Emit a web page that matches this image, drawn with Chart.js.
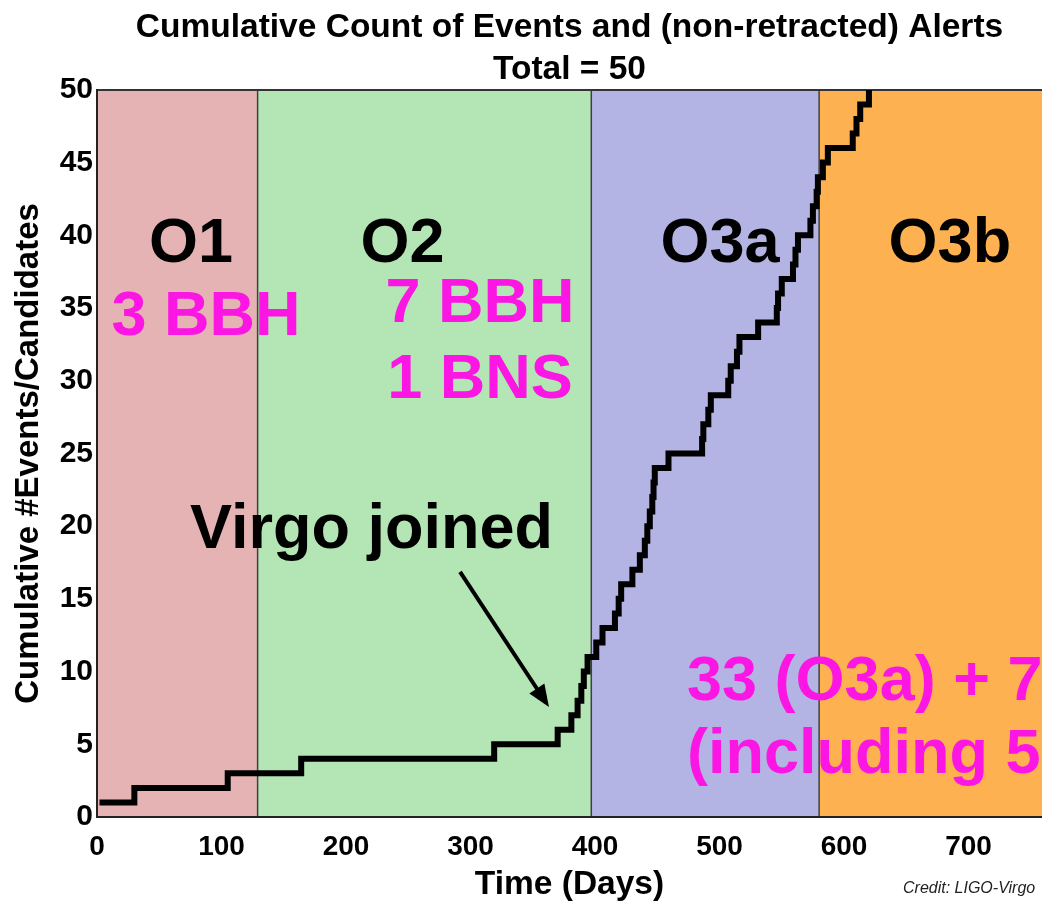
<!DOCTYPE html>
<html>
<head>
<meta charset="utf-8">
<script src="https://cdn.jsdelivr.net/npm/chart.js@4.4.1/dist/chart.umd.min.js"></script>
<style>
  html, body { margin: 0; padding: 0; background: #fff; }
</style>
</head>
<body>
<canvas id="eventsChart" width="1042" height="905"></canvas>
<script>
// observing runs, in days of observing time
const runNames = ["O1", "O2", "O3a", "O3b"];
const runStarts = [0, 129, 397, 580];
const runEnds = [129, 397, 580, 760];

// day on which the cumulative count steps up, and the count after the step
const eventDays = [2, 30, 105, 164, 319, 370, 381, 386, 389, 391,
  394, 401, 406, 416, 419, 421, 430, 436, 440, 442,
  444, 446, 447, 448, 459, 486, 487, 491, 493, 507,
  509, 514, 516, 531, 546, 547, 550, 559, 561, 563,
  573, 575, 578, 579, 583, 587, 607, 610, 613, 620];
const eventCounts = [1, 2, 3, 4, 5, 6, 7, 8, 9, 10,
  11, 12, 13, 14, 15, 16, 17, 18, 19, 20,
  21, 22, 23, 24, 25, 26, 27, 28, 29, 30,
  31, 32, 33, 34, 35, 36, 37, 38, 39, 40,
  41, 42, 43, 44, 45, 46, 47, 48, 49, 50];
const totalCount = 50;

const FONT = "'Liberation Sans', Arial, Helvetica, sans-serif";
const MAGENTA = "#fc16e3";
const runColors = ["#e5b3b3", "#b4e5b4", "#b3b3e4", "#fdb151"];

// text placed on the plot (data coordinates)
const notes = [
  { text: runNames[0], x: 75.5, y: 38.2, color: "#000" },
  { text: runNames[1], x: 245.4, y: 38.2, color: "#000" },
  { text: runNames[2], x: 500.4, y: 38.2, color: "#000" },
  { text: runNames[3], x: 685, y: 38.2, color: "#000" },
  { text: "3 BBH", x: 87.6, y: 33.15, color: MAGENTA },
  { text: "7 BBH", x: 307.6, y: 34.04, color: MAGENTA },
  { text: "1 BNS", x: 307.6, y: 28.82, color: MAGENTA },
  { text: "Virgo joined", x: 220.5, y: 18.5, color: "#000" },
  { text: "33 (O3a) + 7", x: 473.9, y: 8.05, color: MAGENTA, align: "left" },
  { text: "(including 5", x: 473.9, y: 3.03, color: MAGENTA, align: "left" }
];

const runBands = {
  id: "runBands",
  beforeDraw(chart) {
    const { ctx, chartArea: a, scales: { x } } = chart;
    ctx.save();
    runStarts.forEach((s, i) => {
      const x0 = Math.max(x.getPixelForValue(s), a.left);
      const x1 = Math.min(x.getPixelForValue(runEnds[i]), a.right);
      ctx.fillStyle = runColors[i];
      ctx.fillRect(x0, a.top, x1 - x0, a.bottom - a.top);
    });
    ctx.strokeStyle = "#404040";
    ctx.lineWidth = 1.5;
    runStarts.slice(1).forEach(s => {
      const px = x.getPixelForValue(s);
      ctx.beginPath();
      ctx.moveTo(px, a.top);
      ctx.lineTo(px, a.bottom);
      ctx.stroke();
    });
    ctx.strokeStyle = "#333";
    ctx.lineWidth = 2;
    ctx.beginPath();
    ctx.moveTo(a.left, a.top);
    ctx.lineTo(a.right, a.top);
    ctx.stroke();
    ctx.restore();
  },
  beforeDatasetsDraw(chart) {
    const { ctx, scales: { x, y } } = chart;
    ctx.save();
    ctx.textBaseline = "alphabetic";
    ctx.font = "bold 63px " + FONT;
    notes.forEach(n => {
      ctx.fillStyle = n.color;
      ctx.textAlign = n.align || "center";
      ctx.fillText(n.text, x.getPixelForValue(n.x), y.getPixelForValue(n.y));
    });

    // arrow pointing at the Virgo start
    const x0 = x.getPixelForValue(291.6), y0 = y.getPixelForValue(16.85);
    const x1 = x.getPixelForValue(363), y1 = y.getPixelForValue(7.57);
    const ang = Math.atan2(y1 - y0, x1 - x0);
    ctx.strokeStyle = "#000";
    ctx.fillStyle = "#000";
    ctx.lineWidth = 4;
    ctx.beginPath();
    ctx.moveTo(x0, y0);
    ctx.lineTo(x1 - 14 * Math.cos(ang), y1 - 14 * Math.sin(ang));
    ctx.stroke();
    ctx.beginPath();
    ctx.moveTo(x1, y1);
    ctx.lineTo(x1 - 22 * Math.cos(ang) + 9 * Math.sin(ang), y1 - 22 * Math.sin(ang) - 9 * Math.cos(ang));
    ctx.lineTo(x1 - 22 * Math.cos(ang) - 9 * Math.sin(ang), y1 - 22 * Math.sin(ang) + 9 * Math.cos(ang));
    ctx.closePath();
    ctx.fill();
    ctx.restore();
  },
  afterDraw(chart) {
    const { ctx } = chart;
    ctx.save();
    ctx.font = "italic 16px " + FONT;
    ctx.fillStyle = "#222";
    ctx.textAlign = "left";
    ctx.fillText("Credit: LIGO-Virgo", 903, 893);
    ctx.restore();
  }
};

const points = eventDays.map((d, i) => ({ x: d, y: eventCounts[i] }));

new Chart(document.getElementById("eventsChart"), {
  type: "line",
  data: {
    datasets: [{
      data: points,
      stepped: true,
      borderColor: "#000",
      borderWidth: 6,
      borderJoinStyle: "miter",
      borderCapStyle: "butt",
      pointRadius: 0,
      fill: false
    }]
  },
  options: {
    responsive: false,
    animation: false,
    devicePixelRatio: 1,
    layout: { padding: 0 },
    plugins: {
      legend: { display: false },
      tooltip: { enabled: false },
      title: {
        display: true,
        fullSize: false,
        text: ["Cumulative Count of Events and (non-retracted) Alerts", "Total = " + totalCount],
        color: "#000",
        font: { family: FONT, size: 33.5, weight: "bold", lineHeight: 1.23 },
        padding: { top: 7.5, bottom: 0 }
      }
    },
    scales: {
      x: {
        type: "linear",
        min: 0,
        max: 759,
        afterBuildTicks(scale) {
          scale.ticks = scale.ticks.filter(t => t.value % 100 === 0);
        },
        afterFit(scale) { scale.height = 88; },
        ticks: {
          stepSize: 100,
          color: "#000",
          padding: 13,
          font: { family: FONT, size: 28, weight: "bold" }
        },
        grid: { display: false, drawTicks: false },
        border: { display: true, color: "#222", width: 2 },
        title: {
          display: true,
          text: "Time (Days)",
          color: "#000",
          padding: { top: 0, bottom: 0 },
          font: { family: FONT, size: 33.5, weight: "bold" }
        }
      },
      y: {
        min: 0,
        max: 50,
        afterFit(scale) { scale.width = 97; },
        ticks: {
          stepSize: 5,
          color: "#000",
          padding: 4,
          font: { family: FONT, size: 30, weight: "bold" }
        },
        grid: { display: false, drawTicks: false },
        border: { display: true, color: "#222", width: 2 },
        title: {
          display: true,
          text: "Cumulative #Events/Candidates",
          color: "#000",
          padding: { top: 9, bottom: 0 },
          font: { family: FONT, size: 33, weight: "bold" }
        }
      }
    }
  },
  plugins: [runBands]
});
</script>
</body>
</html>
